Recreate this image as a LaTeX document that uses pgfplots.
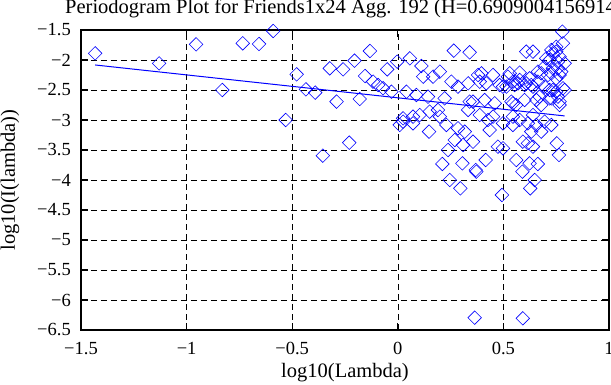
\documentclass[border=0pt]{standalone}
\usepackage{fontspec}
\setmainfont{Liberation Serif}
\usepackage{pgfplots}
\pgfplotsset{compat=1.18}
\pgfplotstableread{
x y
-1.433 -1.889
-1.130 -2.056
-0.955 -1.739
-0.831 -2.500
-0.734 -1.722
-0.657 -1.733
-0.590 -1.517
-0.531 -3.000
-0.479 -2.239
-0.435 -2.489
-0.391 -2.544
-0.355 -3.594
-0.322 -2.139
-0.290 -2.694
-0.259 -2.156
-0.230 -3.378
-0.205 -2.011
-0.180 -2.650
-0.155 -2.267
-0.132 -1.850
-0.117 -2.361
-0.093 -2.417
-0.070 -2.470
-0.050 -2.156
-0.030 -2.528
-0.003 -2.028
0.041 -2.528
0.057 -1.972
0.088 -2.583
0.112 -2.100
0.120 -2.278
0.143 -2.611
0.167 -2.278
0.199 -2.194
0.222 -2.639
0.254 -2.361
0.265 -1.844
0.285 -2.444
0.333 -2.389
0.340 -1.872
0.340 -2.694
0.333 -2.833
0.380 -2.250
0.025 -2.972
0.072 -2.944
0.104 -2.917
0.151 -2.861
0.190 -2.833
0.199 -2.944
0.779 -1.528
0.782 -1.722
0.750 -1.780
0.608 -1.861
0.640 -1.861
0.734 -1.889
0.766 -1.944
0.719 -2.000
0.790 -2.056
0.695 -2.111
0.758 -2.139
0.679 -2.222
0.727 -2.222
0.766 -2.250
0.396 -2.222
0.451 -2.250
0.530 -2.222
0.577 -2.211
0.388 -2.361
0.419 -2.389
0.482 -2.417
0.514 -2.444
0.545 -2.361
0.569 -2.389
0.608 -2.389
0.632 -2.417
0.663 -2.361
0.695 -2.444
0.719 -2.500
0.750 -2.528
0.790 -2.500
0.727 -2.639
0.766 -2.694
0.356 -2.694
0.411 -2.667
0.459 -2.722
0.538 -2.694
0.561 -2.750
0.656 -2.667
0.679 -2.750
0.545 -2.944
0.451 -2.944
0.640 -2.917
0.009 -3.083
0.025 -3.028
0.072 -3.056
0.148 -3.194
0.230 -3.083
0.285 -3.139
0.317 -3.194
0.270 -3.333
0.309 -3.417
0.356 -3.361
0.238 -3.500
0.211 -3.733
0.306 -3.722
0.369 -3.833
0.246 -4.000
0.296 -4.139
0.388 -2.917
0.427 -3.000
0.435 -3.167
0.498 -3.056
0.545 -3.083
0.577 -3.000
0.616 -3.056
0.656 -3.083
0.695 -3.028
0.727 -3.083
0.632 -3.194
0.679 -3.194
0.474 -3.444
0.498 -3.472
0.592 -3.361
0.616 -3.389
0.640 -3.444
0.753 -3.389
0.763 -3.583
0.416 -3.667
0.561 -3.667
0.624 -3.722
0.663 -3.733
0.372 -3.861
0.590 -3.861
0.648 -4.000
0.627 -4.139
0.493 -4.250
0.364 -6.295
0.592 -6.305
0.750 -1.861
0.727 -1.833
0.703 -1.972
0.758 -2.028
0.734 -2.139
0.774 -2.194
0.663 -2.194
0.711 -2.250
0.750 -2.306
0.521 -2.278
0.577 -2.333
0.624 -2.306
0.782 -2.472
0.734 -2.500
0.640 -2.444
0.600 -2.417
0.553 -2.417
0.498 -2.444
0.758 -2.611
0.719 -2.639
0.671 -2.611
0.600 -2.667
0.545 -2.722
0.766 -2.750
}\pts
\begin{document}
\begin{tikzpicture}
\begin{axis}[
  scale only axis, width=528pt, height=300pt,
  xmin=-1.5, xmax=1, ymin=-6.5, ymax=-1.5,
  xtick={-1.5,-1,-0.5,0,0.5,1},
  ytick={-6.5,-6,-5.5,-5,-4.5,-4,-3.5,-3,-2.5,-2,-1.5},
  xticklabels={−1.5,−1,−0.5,0,0.5,1},
  yticklabels={−6.5,−6,−5.5,−5,−4.5,−4,−3.5,−3,−2.5,−2,−1.5},
  grid=major,
  major grid style={black, dash pattern=on 6pt off 4pt, line width=0.6pt},
  axis line style={black, line width=1.2pt},
  tick style={black, line width=1.2pt},
  major tick length=7pt, tick align=inside, tick pos=both,
  ticklabel style={font=\fontsize{18.5}{18.5}\selectfont},
  xticklabel style={anchor=base, yshift=-25pt},
  yticklabel style={anchor=east, inner sep=0pt, xshift=-10pt},
  xlabel={log10(Lambda)}, ylabel={log10(I(lambda))},
  label style={font=\fontsize{20.5}{20.5}\selectfont},
  xlabel style={at={([yshift=-48pt]axis description cs:0.5,0)}, anchor=base},
  ylabel style={at={([xshift=-71pt]axis description cs:0,0.5)}, anchor=center},
]
\addplot[only marks, blue, mark=square, mark size=4.8pt, mark options={rotate=45, line width=0.6pt}] table {\pts};
\addplot[blue, line width=1pt] coordinates {(-1.433,-2.083) (0.790,-2.932)};
\end{axis}
\node[anchor=base west, inner sep=0pt, font=\fontsize{20.5}{20.5}\selectfont] at ([xshift=-16pt,yshift=16.7pt]current axis.north west) {Periodogram Plot for Friends1x24 Agg. 192 (H=0.690900415691400)};
\pgfresetboundingbox
\path[use as bounding box] ([xshift=-81pt,yshift=-55pt]current axis.south west) rectangle ([xshift=2pt,yshift=30pt]current axis.north east);
\end{tikzpicture}
\end{document}
